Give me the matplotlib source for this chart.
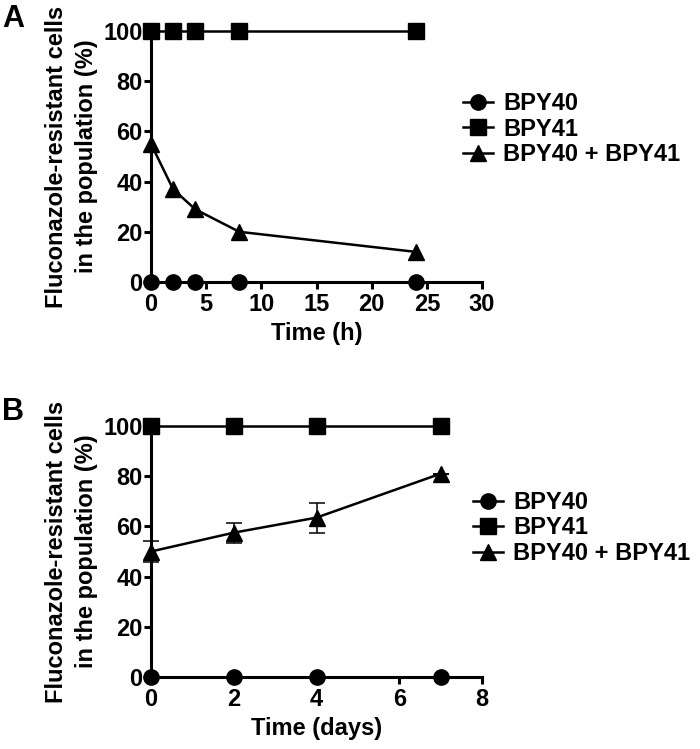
import numpy as np
import matplotlib
matplotlib.use("Agg")
import matplotlib.pyplot as plt

plt.rcParams["font.family"] = ["Liberation Sans", "DejaVu Sans"]
plt.rcParams["font.weight"] = "bold"

# panel A (hours)
hours = [0, 2, 4, 8, 24]
a_bpy40 = [0, 0, 0, 0, 0]
a_bpy41 = [100, 100, 100, 100, 100]
a_mix = [55, 37, 29, 20, 12]

# panel B (days)
days = [0, 2, 4, 7]
b_bpy40 = [0, 0, 0, 0]
b_bpy41 = [100, 100, 100, 100]
b_mix = [50, 57.5, 63.5, 81]
b_mix_err = [4, 4, 6, 0]

labels = ["BPY40", "BPY41", "BPY40 + BPY41"]
ylabel = "Fluconazole-resistant cells\nin the population (%)"

W, H = 700, 749
fig = plt.figure(figsize=(W / 100, H / 100), dpi=100)


def px_axes(left, top, right, bottom):
    return fig.add_axes([left / W, 1 - bottom / H, (right - left) / W, (bottom - top) / H])


def style(ax, xmax, xstep, xlabel):
    ax.set_xlim(0, xmax)
    ax.set_ylim(0, 100)
    ax.set_xticks(np.arange(0, xmax + 0.1, xstep))
    ax.set_yticks(np.arange(0, 101, 20))
    for s in ["top", "right"]:
        ax.spines[s].set_visible(False)
    for s in ["left", "bottom"]:
        ax.spines[s].set_linewidth(2.2)
    ax.tick_params(direction="out", length=5, width=2.2, labelsize=17)
    ax.tick_params(axis="y", pad=1)
    ax.tick_params(axis="x", pad=3)
    for t in ax.get_xticklabels() + ax.get_yticklabels():
        t.set_fontweight("bold")
    ax.set_xlabel(xlabel, fontsize=17, fontweight="bold", labelpad=4)
    ax.set_ylabel(ylabel, fontsize=17, fontweight="bold", linespacing=1.35, labelpad=4)


def legend(ax, x, y):
    ax.legend(loc="center left", bbox_to_anchor=(x / W, 1 - y / H), bbox_transform=fig.transFigure,
              frameon=False, borderpad=0, borderaxespad=0, labelspacing=0.1, handlelength=1.25,
              handletextpad=0.45, prop={"weight": "bold", "size": 17})


kw = dict(color="black", lw=1.8, clip_on=False, zorder=3)

axA = px_axes(151, 31, 482, 282)
axA.plot(hours, a_bpy40, marker="o", ms=11, label=labels[0], **kw)
axA.plot(hours, a_bpy41, marker="s", ms=11, label=labels[1], **kw)
axA.plot(hours, a_mix, marker="^", ms=11, label=labels[2], **kw)
style(axA, 30, 5, "Time (h)")
legend(axA, 463, 129)

axB = px_axes(151, 426, 482, 677)
axB.plot(days, b_bpy40, marker="o", ms=11, label=labels[0], **kw)
axB.plot(days, b_bpy41, marker="s", ms=11, label=labels[1], **kw)
axB.errorbar(days, b_mix, yerr=b_mix_err, fmt="none", ecolor="black", capsize=6,
             elinewidth=1.1, capthick=1.1, clip_on=False, zorder=2)
axB.plot(days, b_mix, marker="^", ms=11, label=labels[2], **kw)
style(axB, 8, 2, "Time (days)")
legend(axB, 473, 528)

fig.text(2 / W, 1 - 4 / H, "A", fontsize=22, fontweight="bold", va="top", ha="left")
fig.text(2 / W, 1 - 397 / H, "B", fontsize=22, fontweight="bold", va="top", ha="left")

fig.savefig("out.png", dpi=100)
